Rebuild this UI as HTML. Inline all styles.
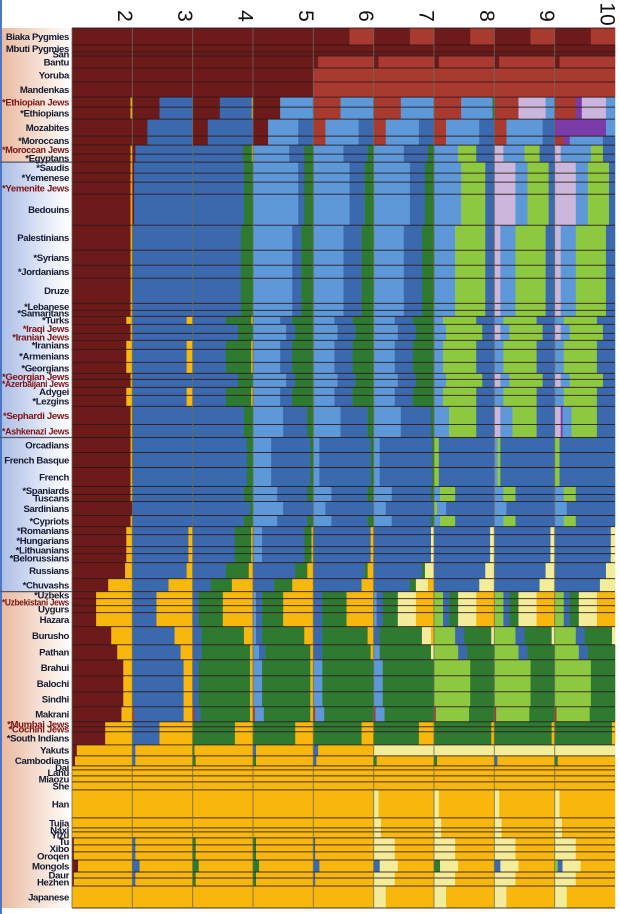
<!DOCTYPE html>
<html><head><meta charset="utf-8">
<style>
html,body{margin:0;padding:0;background:#fff;width:620px;height:914px;overflow:hidden}
svg{display:block}
text{font-family:"Liberation Sans",sans-serif}
</style></head>
<body>
<svg id="chart" width="620" height="914" viewBox="0 0 620 914">
<defs>
<linearGradient id="peach" x1="0" x2="1"><stop offset="0" stop-color="#e9b89e"/><stop offset="0.75" stop-color="#fbeee6"/><stop offset="1" stop-color="#ffffff"/></linearGradient>
<linearGradient id="bluish" x1="0" x2="1"><stop offset="0" stop-color="#aabce6"/><stop offset="0.75" stop-color="#eef2fb"/><stop offset="1" stop-color="#ffffff"/></linearGradient>
</defs>
<g id="bg"></g>
<g id="bars"></g>
<g id="seps"></g>
<g id="labels"></g>
<g id="header"></g>
</svg>
<script>
const kValues = [2,3,4,5,6,7,8,9,10];
const popNames = ["Biaka Pygmies","Mbuti Pygmies","San","Bantu","Yoruba","Mandenkas","*Ethiopian Jews","*Ethiopians","Mozabites","*Moroccans","*Moroccan Jews","*Egyptans","*Saudis","*Yemenese","*Yemenite Jews","Bedouins","Palestinians","*Syrians","*Jordanians","Druze","*Lebanese","*Samaritans","*Turks","*Iraqi Jews","*Iranian Jews","*Iranians","*Armenians","*Georgians","*Georgian Jews","*Azerbaijani Jews","Adygei","*Lezgins","*Sephardi Jews","*Ashkenazi Jews","Orcadians","French Basque","French","*Spaniards","Tuscans","Sardinians","*Cypriots","*Romanians","*Hungarians","*Lithuanians","*Belorussians","Russians","*Chuvashs","*Uzbeks","*Uzbekistani Jews","Uygurs","Hazara","Burusho","Pathan","Brahui","Balochi","Sindhi","Makrani","*Mumbai Jews","*Cochini Jews","*South Indians","Yakuts","Cambodians","Dai","Lahu","Miaozu","She","Han","Tujia","Naxi","Yizu","Tu","Xibo","Oroqen","Mongols","Daur","Hezhen","Japanese"];
const popSizes = [17,7,4,12,14,15,10,12,17,9,9,8,11,9,12,31,25,15,13,25,7,6,8,9,7,9,13,11,6,8,8,11,18,13,15,15,19,8,7,14,11,8,12,7,9,16,13,7,7,7,14,18,15,16,16,15,15,5,5,13,11,10,4,6,6,8,28,10,4,6,7,7,8,12,6,8,22];
const popProfile = ["biaka","mbuti","mbuti","bantu","wafr","wafr","ethio","ethio","mozab","moroc","nafr2","nafr2","arab","arab","arab","arab","levant","levant","levant","levant","levant","levant","caucasus","jewsME","jewsME","caucasus","caucasus","caucasus","jewsME","jewsME","caucasus","caucasus","jewsEu","jewsEu","europe","europe","europe","southEu","southEu","sardinians","southEu","eastEu","eastEu","eastEu","eastEu","russia","chuvash","centralAsia","centralAsia","centralAsia","centralAsia","burusho","pathan","baloch","baloch","baloch","makrani","sIndia","sIndia","sIndia","yakut","cambod","eastAsia","eastAsia","eastAsia","eastAsia","han","eastAsia2","eastAsia2","eastAsia2","northAsia","northAsia","northAsia","mongol","northAsia","northAsia","japanese"];
const profiles = {
 biaka:["R1","R1","R1","R1","R.6 r.4","R.6 r.4","R.6 r.4","R.6 r.4","R.6 r.4"],
 mbuti:["R1","R1","R1","R1","R1","R1","R1","R1","R1"],
 bantu:["R1","R1","R1","R1","R.08 r.92","R.08 r.92","R.08 r.92","R.08 r.92","R.08 r.92"],
 wafr:["R1","R1","R1","R1","r1","r1","r1","r1","r1"],
 ethio:["R.97 Y.03","R.45 B.55","R.45 B.53 Y.02","R.45 b.55","r.45 b.55","r.45 b.55","r.45 b.52 G.03","r.4 L.45 b.15","r.35 P.1 L.4 b.15"],
 mozab:["R1","R.25 B.75","R.25 B.75","R.25 b.5 B.25","r.2 b.55 B.25","r.2 b.55 B.25","r.2 b.55 B.25","r.2 b.6 B.2","P.85 b.15"],
 moroc:["R1","R.25 B.75","R.25 B.75","R.25 b.5 B.25","r.2 b.55 B.25","r.2 b.55 B.25","r.2 b.55 B.25","r.2 b.6 B.2","r.15 P.1 b.55 B.2"],
 nafr2:["R.97 Y.03","R.05 B.95","B.83 G.15 Y.02","b.6 B.25 G.15","b.5 B.4 G.1","b.5 B.4 G.1","b.4 g.3 B.3","L.15 b.35 g.25 B.25","L.1 b.5 g.2 B.2"],
 arab:["R.97 Y.03","R.03 B.97","B.85 G.15","b.75 B.1 G.15","b.6 B.25 G.15","b.6 B.25 G.15","b.45 g.4 B.15","L.35 b.2 g.35 B.1","L.35 b.2 g.35 B.1"],
 levant:["R.97 Y.03","B1","B.8 G.2","b.65 B.15 G.2","b.5 B.3 G.2","b.5 B.3 G.2","b.35 g.5 B.15","L.1 b.25 g.5 B.15","L.1 b.25 g.5 B.15"],
 caucasus:["R.9 Y.1","B.9 Y.1","B.55 G.42 Y.03","b.45 B.2 G.35","b.35 B.3 G.35","b.35 B.3 G.35","b.15 g.55 B.3","b.15 g.55 B.3","b.15 g.55 B.3"],
 jewsME:["R.97 Y.03","B1","B.75 G.25","b.55 B.15 G.3","b.4 B.3 G.3","b.4 B.3 G.3","b.2 g.6 B.2","L.1 b.15 g.55 B.2","L.1 b.15 g.55 B.2"],
 jewsEu:["R.97 Y.03","B1","B.85 G.15","b.5 B.4 G.1","b.45 B.45 G.1","b.45 B.5 G.05","b.25 g.45 B.3","L.1 b.2 g.4 B.3","L.1 P.03 b.15 g.42 B.3"],
 europe:["R.97 Y.03","B1","B.9 G.1","b.3 B.65 G.05","b.1 B.85 G.05","b.1 B.87 G.03","g.08 B.92","b.05 g.05 B.9","g.08 B.92"],
 sardinians:["R1","B1","B.95 G.05","b.5 B.5","b.2 B.8","b.2 B.8","g.05 b.15 B.8","b.2 B.8","b.2 B.8"],
 southEu:["R.97 Y.03","B1","B.85 G.15","b.4 B.5 G.1","b.3 B.6 G.1","b.3 B.65 G.05","b.1 g.25 B.65","b.15 g.2 B.65","b.15 g.2 B.65"],
 eastEu:["R.9 Y.1","B.93 Y.07","B.7 G.27 Y.03","b.15 B.7 G.12 Y.03","B.95 Y.05","B.95 y.05","B.93 y.07","B.93 y.07","B.93 y.07"],
 russia:["R.88 Y.12","B.9 Y.1","B.55 G.38 Y.07","B.7 G.2 Y.1","B.85 G.05 Y.1","B.8 G.05 y.15","B.85 y.15","B.85 y.15","B.85 y.15"],
 chuvash:["R.6 Y.4","B.6 Y.4","B.3 G.35 Y.35","B.35 G.3 Y.35","B.8 Y.2","B.6 G.1 y.2 Y.1","B.75 y.25","B.75 y.25","B.75 y.25"],
 centralAsia:["R.4 Y.6","B.4 Y.6","B.1 G.4 Y.5","b.05 B.1 G.35 Y.5","B.15 G.4 Y.45","b.05 B.1 G.25 y.3 Y.3","g.15 B.1 G.15 y.3 Y.3","g.15 B.1 G.15 y.3 Y.3","g.15 B.1 G.15 y.3 Y.3"],
 burusho:["R.65 Y.35","B.7 Y.3","B.15 G.7 Y.15","b.05 B.1 G.7 Y.15","B.15 G.75 Y.1","B.1 G.7 y.15 Y.05","g.35 B.15 G.45 y.05","g.35 B.15 G.45 y.05","g.35 B.15 G.45 y.05"],
 pathan:["R.75 Y.25","B.8 Y.2","B.15 G.8 Y.05","b.1 B.1 G.75 Y.05","B.15 G.8 Y.05","b.1 G.85 y.05","g.4 B.15 G.45","g.4 B.15 G.45","g.4 B.15 G.45"],
 baloch:["R.85 Y.15","B.85 Y.15","B.1 G.85 Y.05","b.15 G.8 Y.05","b.15 G.85","b.15 G.85","g.6 G.4","g.6 G.4","g.6 G.4"],
 makrani:["R.82 Y.18","r.03 B.82 Y.15","r.03 B.1 G.82 Y.05","r.03 b.15 G.77 Y.05","r.03 b.15 G.82","r.03 b.15 G.82","r.03 g.55 G.42","r.03 g.55 G.42","r.03 g.55 G.42"],
 sIndia:["R.55 Y.45","B.45 Y.55","G.7 Y.3","G.7 Y.3","G.8 Y.2","G.75 Y.25","G.95 Y.05","G.95 Y.05","G.95 Y.05"],
 yakut:["R.08 Y.92","B.05 Y.95","G.03 Y.97","B.05 Y.95","B.08 Y.92","y1","y1","y1","y1"],
 cambod:["R.05 Y.95","B.05 Y.95","G.05 Y.95","G.05 Y.95","B.05 Y.95","G.05 Y.95","G.05 Y.95","B.05 Y.95","G.05 Y.95"],
 eastAsia:["Y1","Y1","Y1","Y1","Y1","Y1","Y1","Y1","Y1"],
 han:["Y1","Y1","Y1","Y1","Y1","y.08 Y.92","y.08 Y.92","y.08 Y.92","y.08 Y.92"],
 eastAsia2:["Y1","Y1","Y1","Y1","Y1","y.12 Y.88","y.12 Y.88","y.12 Y.88","y.12 Y.88"],
 northAsia:["R.03 Y.97","B.05 Y.95","G.05 Y.95","G.05 Y.95","B.03 Y.97","y.35 Y.65","y.35 Y.65","y.35 Y.65","y.35 Y.65"],
 mongol:["R.1 Y.9","B.12 Y.88","G.1 Y.9","G.1 Y.9","B.1 Y.9","B.1 y.3 Y.6","G.1 y.3 Y.6","B.1 y.3 Y.6","g.05 B.08 y.3 Y.57"],
 japanese:["Y1","Y1","Y1","Y1","Y1","y.2 Y.8","y.2 Y.8","y.2 Y.8","y.2 Y.8"]
};
const palette = {R:"#6d1a1b",r:"#a83a30",B:"#3b69ad",b:"#5d98d8",G:"#2f7a31",g:"#8dc841",Y:"#f8b70c",y:"#f3ec99",L:"#cbb6dc",P:"#7a3ca8"};

const NS="http://www.w3.org/2000/svg";
const plotL=72, plotR=615, plotT=28, plotB=908, labelR=72;
const colW=(plotR-plotL)/kValues.length;
const total=popSizes.reduce((a,b)=>a+b,0);
const yScale=v=>plotT+(plotB-plotT)*v/total;
const xCol=i=>plotL+i*colW;
function mk(tag,attrs,parent){const e=document.createElementNS(NS,tag);for(const k in attrs)e.setAttribute(k,attrs[k]);parent.appendChild(e);return e;}

const bg=document.getElementById('bg');
let yA=yScale(0), y162=yScale(popSizes.slice(0,12).reduce((a,b)=>a+b,0)), y592=yScale(popSizes.slice(0,47).reduce((a,b)=>a+b,0)), y437=yScale(popSizes.slice(0,34).reduce((a,b)=>a+b,0));
let r1=mk('rect',{x:0,y:yA,width:labelR,height:y162-yA,fill:'url(#peach)'},bg);


let r2=mk('rect',{x:0,y:y162,width:labelR,height:y592-y162,fill:'url(#bluish)'},bg);


let r3=mk('rect',{x:0,y:y592,width:labelR,height:plotB-y592,fill:'url(#peach)'},bg);


let bl=mk('rect',{x:0,y:0,width:2,height:914,fill:'#4a78c8'},bg);


[y162,y437,y592].forEach(y=>{const l=mk('line',{x1:0,x2:labelR,y1:y,y2:y,stroke:'#556',"stroke-width":1.2},bg);
 
 });

const bars=document.getElementById('bars');
let cum=0;
popNames.forEach((name,pi)=>{
  const y0=yScale(cum), y1=yScale(cum+popSizes[pi]);
  cum+=popSizes[pi];
  const prof=profiles[popProfile[pi]];
  kValues.forEach((k,ki)=>{
    const segs=prof[ki].split(' ').map(s=>({c:s[0],f:parseFloat(s.slice(1))}));
    const sum=segs.reduce((a,s)=>a+s.f,0);
    let x=xCol(ki);
    segs.forEach(s=>{
      const w=colW*s.f/sum;
      const rc=mk('rect',{x:x.toFixed(2),y:y0.toFixed(2),width:(w+0.3).toFixed(2),height:(y1-y0).toFixed(2),fill:palette[s.c]},bars);
      
      
      x+=w;
    });
  });
});

const seps=document.getElementById('seps');
cum=0;
for(let i=0;i<=popSizes.length;i++){
  const y=yScale(cum);
  const l=mk('line',{x1:plotL,x2:plotR,y1:y,y2:y,stroke:'#2a1616',"stroke-width":1,"stroke-opacity":0.85},seps);
  
  
  if(i<popSizes.length)cum+=popSizes[i];
}
kValues.forEach((k,ki)=>{
  const x=xCol(ki);
  const l=mk('line',{x1:x,x2:x,y1:plotT,y2:plotB,stroke:'#6b6b5a',"stroke-width":1,"stroke-opacity":0.8},seps);
  
  
});

const labels=document.getElementById('labels');
cum=0;
popNames.forEach((name,pi)=>{
  const yc=(yScale(cum)+yScale(cum+popSizes[pi]))/2;
  cum+=popSizes[pi];
  const jew=/Jews/.test(name);
  const t=mk('text',{x:69,y:(yc+3.4).toFixed(1),"text-anchor":"end","font-size":"9.6","font-weight":"bold","letter-spacing":"-0.35",fill:jew?'#7c1414':'#141a30'},labels);
  t.textContent=name;
  
  
  try{ if(t.getComputedTextLength()>67){ t.setAttribute('textLength','67'); t.setAttribute('lengthAdjust','spacingAndGlyphs'); } }catch(e){}
});

const header=document.getElementById('header');
kValues.forEach((k,ki)=>{
  const cx=xCol(ki)+colW-9, cy=k===10?14:16;
  const t=mk('text',{x:cx,y:cy,"text-anchor":"middle","font-size":"21",fill:'#111',transform:`rotate(90 ${cx} ${cy})`,"dominant-baseline":"middle"},header);
  t.textContent=String(k);
  
  
});
</script>
</body></html>
